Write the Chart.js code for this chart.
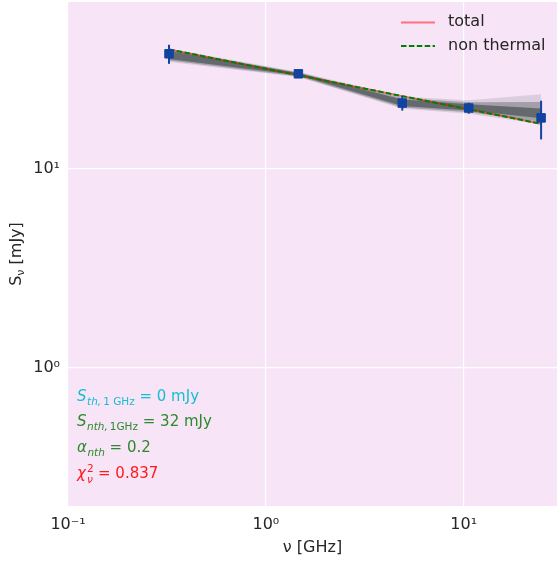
<!DOCTYPE html>
<html>
<head>
<meta charset="utf-8">
<script src="https://cdn.jsdelivr.net/npm/chart.js@4.4.1/dist/chart.umd.min.js"></script>
<style>
  html, body { margin: 0; padding: 0; background: #ffffff; overflow: hidden; }
  #wrap { width: 557px; height: 561px; }
</style>
</head>
<body>
<div id="wrap"><canvas id="sed" width="557" height="561"></canvas></div>
<script>
// Observed radio continuum flux densities
const freqGHz = [0.324, 1.46, 4.89, 10.6, 24.6];
const fluxMJy = [38.1, 30.2, 21.5, 20.3, 18.1];
const fluxErr = [4.2, 1.0, 1.8, 1.3, 4.0];

// Best-fit model evaluated at the observed frequencies
// (S_nth,1GHz = 32 mJy, alpha_nth = 0.2, no thermal component)
const modelTotal      = [40.1, 29.7, 23.3, 20.0, 16.9];
const modelNonThermal = [40.1, 29.7, 23.3, 20.0, 16.9];

// Envelope of the posterior model samples
const sampleOuterHigh = [40.4, 30.9, 23.2, 22.2, 23.8];
const sampleOuterLow  = [34.6, 29.1, 20.1, 19.0, 16.8];
const sampleMidHigh   = [40.0, 30.7, 22.8, 21.7, 21.8];
const sampleMidLow    = [35.2, 29.3, 20.4, 19.3, 17.3];
const sampleCoreHigh  = [39.4, 30.5, 22.4, 21.2, 20.2];
const sampleCoreLow   = [35.9, 29.7, 20.8, 19.7, 18.0];

// Axis ticks
const xTickValues = [0.1, 1, 10];
const xTickLabels = ['10\u207B\u00B9', '10\u2070', '10\u00B9'];
const yTickValues = [1, 10];
const yTickLabels = ['10\u2070', '10\u00B9'];

const FONT = '"DejaVu Sans", sans-serif';
const INK = '#262626';
const PLOT_BG = '#f7e4f7';
const MARK = '#1144a0';

const xy = arr => arr.map((y, i) => ({ x: freqGHz[i], y }));

function band(data, fillColor, order, fillTarget) {
  return {
    data: xy(data), order,
    borderColor: 'rgba(0,0,0,0)', borderWidth: 0,
    backgroundColor: fillColor,
    pointRadius: 0, tension: 0,
    fill: fillTarget === undefined ? false : fillTarget
  };
}

const datasets = [
  // 0: measurements
  {
    label: 'data', data: xy(fluxMJy), order: 0,
    showLine: false, pointStyle: 'rect', pointRadius: 6,
    pointBackgroundColor: MARK, pointBorderColor: MARK, pointBorderWidth: 1
  },
  // 1: non-thermal model
  {
    label: 'non thermal', data: xy(modelNonThermal), order: 1,
    borderColor: '#008000', borderWidth: 2, borderDash: [5.5, 2.4],
    pointRadius: 0, fill: false, tension: 0
  },
  // 2: total model
  {
    label: 'total', data: xy(modelTotal), order: 2,
    borderColor: 'rgba(255,0,0,0.5)', borderWidth: 2,
    pointRadius: 0, fill: false, tension: 0
  },
  // 3..8: sample envelopes, filled pairwise
  band(sampleCoreHigh, 'rgba(60,72,72,0.62)', 3, '+1'),
  band(sampleCoreLow, 'rgba(0,0,0,0)', 4),
  band(sampleMidHigh, 'rgba(60,72,72,0.35)', 5, '+1'),
  band(sampleMidLow, 'rgba(0,0,0,0)', 6),
  band(sampleOuterHigh, 'rgba(60,72,72,0.15)', 7, '+1'),
  band(sampleOuterLow, 'rgba(0,0,0,0)', 8)
];

// Pink plot background
const plotBackground = {
  id: 'plotBackground',
  beforeDraw(chart) {
    const { ctx, chartArea: a } = chart;
    ctx.save();
    ctx.fillStyle = PLOT_BG;
    ctx.fillRect(a.left, a.top, a.right - a.left, a.bottom - a.top);
    ctx.restore();
  }
};

// Vertical error bars under the markers
const errorBars = {
  id: 'errorBars',
  beforeDatasetDraw(chart, args) {
    if (args.index !== 0) return;
    const { ctx, scales: { x, y } } = chart;
    ctx.save();
    ctx.strokeStyle = MARK;
    ctx.lineWidth = 2;
    freqGHz.forEach((f, i) => {
      const px = x.getPixelForValue(f);
      ctx.beginPath();
      ctx.moveTo(px, y.getPixelForValue(fluxMJy[i] + fluxErr[i]));
      ctx.lineTo(px, y.getPixelForValue(fluxMJy[i] - fluxErr[i]));
      ctx.stroke();
    });
    ctx.restore();
  }
};

// Draw a sequence of text runs (italic / upright, sub / superscripts)
function drawRuns(ctx, x, y, runs, color) {
  ctx.fillStyle = color;
  ctx.textAlign = 'left';
  ctx.textBaseline = 'alphabetic';
  let cx = x;
  for (const r of runs) {
    ctx.font = (r.it ? 'italic ' : '') + r.size + 'px ' + FONT;
    cx += r.pre || 0;
    ctx.fillText(r.t, cx, y + (r.dy || 0));
    const w = ctx.measureText(r.t).width;
    if (!r.hold) cx += w;
  }
  return cx;
}

const annotations = {
  id: 'annotations',
  afterDraw(chart) {
    const { ctx, chartArea: a } = chart;
    ctx.save();

    // Fit results
    const M = 15, S = 10.5;
    drawRuns(ctx, 77, 401, [
      { t: 'S', it: true, size: M },
      { t: 'th,', it: true, size: S, dy: 3.5, pre: 0.5 },
      { t: '1 GHz', size: S, dy: 3.5, pre: 2 },
      { t: ' = 0 mJy', size: M }
    ], '#17becf');
    drawRuns(ctx, 77, 426, [
      { t: 'S', it: true, size: M },
      { t: 'nth,', it: true, size: S, dy: 3.5, pre: 0.5 },
      { t: '1GHz', size: S, dy: 3.5, pre: 2 },
      { t: ' = 32 mJy', size: M }
    ], '#2b8a2b');
    drawRuns(ctx, 77, 452, [
      { t: '\u03B1', it: true, size: M },
      { t: 'nth', it: true, size: S, dy: 3.5, pre: 0.5 },
      { t: ' = 0.2', size: M }
    ], '#2b8a2b');
    drawRuns(ctx, 77, 478, [
      { t: '\u03C7', it: true, size: M },
      { t: '2', size: S, dy: -6.5, pre: 1, hold: true },
      { t: '\u03BD', it: true, size: S, dy: 4.5 },
      { t: ' = 0.837', size: M, pre: 0.5 }
    ], '#ff1a1a');

    // Legend
    ctx.lineWidth = 2;
    ctx.strokeStyle = 'rgba(255,0,0,0.5)';
    ctx.beginPath(); ctx.moveTo(401, 22.5); ctx.lineTo(435, 22.5); ctx.stroke();
    ctx.strokeStyle = '#008000';
    ctx.setLineDash([5.5, 2.4]);
    ctx.beginPath(); ctx.moveTo(401, 46); ctx.lineTo(435, 46); ctx.stroke();
    ctx.setLineDash([]);
    ctx.fillStyle = INK;
    ctx.font = '16px ' + FONT;
    ctx.textBaseline = 'middle';
    ctx.textAlign = 'left';
    ctx.fillText('total', 448, 22);
    ctx.fillText('non thermal', 448, 46);

    // x-axis title
    ctx.textAlign = 'center';
    ctx.fillText('\u03BD [GHz]', (a.left + a.right) / 2, 548);

    // y-axis title, rotated, with subscript nu
    ctx.translate(17, (a.top + a.bottom) / 2);
    ctx.rotate(-Math.PI / 2);
    ctx.font = '16px ' + FONT;
    const wS = ctx.measureText('S').width;
    ctx.font = '11px ' + FONT;
    const wNu = ctx.measureText('\u03BD').width;
    ctx.font = '16px ' + FONT;
    const wRest = ctx.measureText(' [mJy]').width;
    let sx = -(wS + wNu + wRest) / 2;
    ctx.textAlign = 'left';
    ctx.textBaseline = 'middle';
    ctx.fillText('S', sx, 0); sx += wS;
    ctx.font = '11px ' + FONT;
    ctx.fillText('\u03BD', sx, 4); sx += wNu;
    ctx.font = '16px ' + FONT;
    ctx.fillText(' [mJy]', sx, 0);

    ctx.restore();
  }
};

// Keep the plot area flush with the canvas edges (no label overhang padding)
function noOverhang(s) {
  s.paddingLeft = 0; s.paddingRight = 0; s.paddingTop = 0; s.paddingBottom = 0;
}

new Chart(document.getElementById('sed'), {
  type: 'line',
  data: { datasets },
  options: {
    responsive: false,
    animation: false,
    devicePixelRatio: 1,
    layout: { autoPadding: false, padding: { top: 2, left: 0, right: 0, bottom: 0 } },
    plugins: { legend: { display: false }, tooltip: { enabled: false } },
    scales: {
      x: {
        type: 'logarithmic', min: 0.1, max: 29.6,
        afterBuildTicks: s => { s.ticks = xTickValues.map(v => ({ value: v, major: true })); },
        afterFit: s => { s.height = 55; noOverhang(s); },
        grid: { color: '#ffffff', lineWidth: 1.2, drawTicks: false },
        border: { display: false },
        ticks: {
          color: INK, font: { family: FONT, size: 16 }, padding: 9,
          maxRotation: 0, autoSkip: false,
          callback: v => xTickLabels[xTickValues.indexOf(v)]
        }
      },
      y: {
        type: 'logarithmic', min: 0.2, max: 69.5,
        afterBuildTicks: s => { s.ticks = yTickValues.map(v => ({ value: v, major: true })); },
        afterFit: s => { s.width = 68; noOverhang(s); },
        grid: { color: '#ffffff', lineWidth: 1.2, drawTicks: false },
        border: { display: false },
        ticks: {
          color: INK, font: { family: FONT, size: 16 }, padding: 8,
          autoSkip: false,
          callback: v => yTickLabels[yTickValues.indexOf(v)]
        }
      }
    }
  },
  plugins: [plotBackground, errorBars, annotations]
});
</script>
</body>
</html>
